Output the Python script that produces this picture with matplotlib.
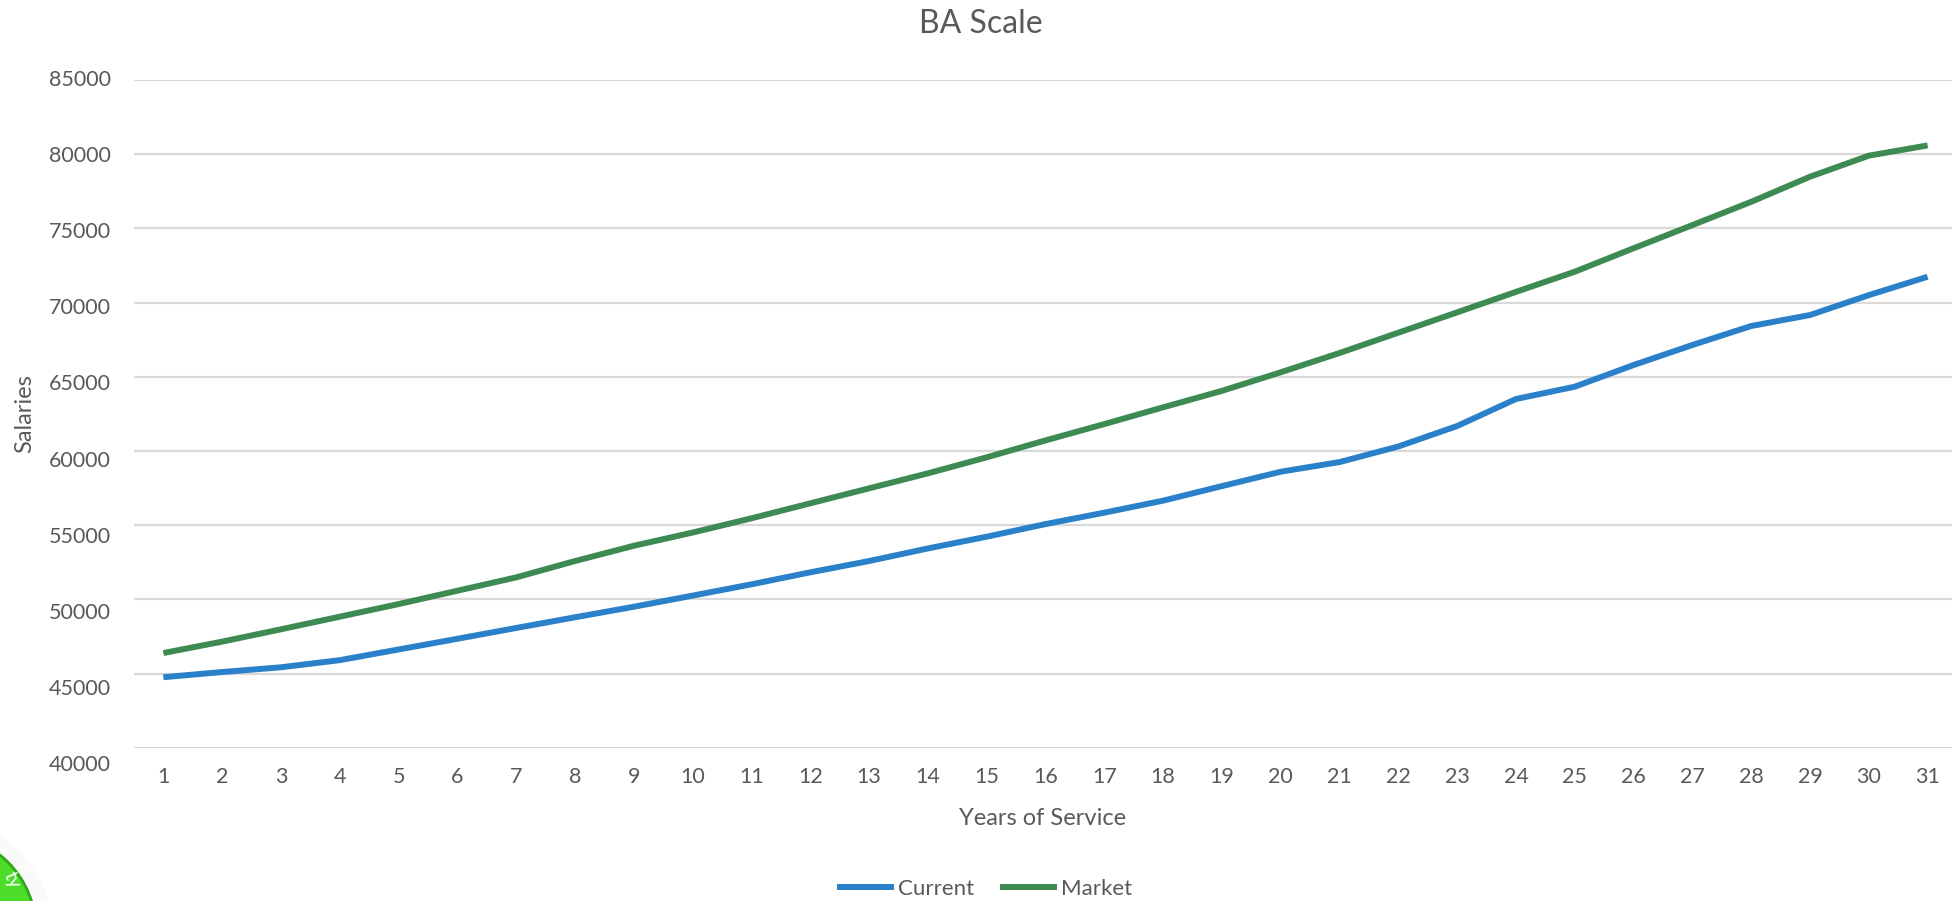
import matplotlib
matplotlib.use("Agg")
import matplotlib.pyplot as plt
from matplotlib.lines import Line2D
from matplotlib.patches import Circle

plt.rcParams['font.family'] = ['Lato', 'DejaVu Sans']

# Salary scale data
years = list(range(1, 32))
current = [44750, 45100, 45420, 45900, 46620, 47340, 48070, 48790, 49500, 50250,
           51010, 51820, 52580, 53430, 54220, 55070, 55840, 56650, 57630, 58600,
           59250, 60300, 61680, 63500, 64330, 65790, 67140, 68420, 69160, 70500,
           71740]
market = [46380, 47150, 47980, 48830, 49680, 50580, 51480, 52580, 53610, 54500,
          55460, 56470, 57480, 58490, 59570, 60710, 61810, 62940, 64050, 65300,
          66600, 67970, 69340, 70720, 72080, 73660, 75220, 76790, 78480, 79900,
          80590]
y_ticks = [40000, 45000, 50000, 55000, 60000, 65000, 70000, 75000, 80000, 85000]

TEXT = '#595959'
BLUE = '#2a81c9'
GREEN = '#3d8a52'
GRID = '#d9d9d9'

W, H = 1952, 901
fig = plt.figure(figsize=(W / 100, H / 100), dpi=100)

def fx(px):
    return px / W

def fy(py):
    return 1 - py / H

# plot area
left, right, top, bottom = 134, 1957, 80, 747.7
ax = fig.add_axes([fx(left), fy(bottom), (right - left) / W, (bottom - top) / H])
ax.plot(years, current, color=BLUE, lw=4.3, solid_capstyle='butt', solid_joinstyle='round')
ax.plot(years, market, color=GREEN, lw=4.3, solid_capstyle='butt', solid_joinstyle='round')
ax.set_xlim(0.5, 31.5)
ax.set_ylim(40000, 85000)
ax.set_yticks(y_ticks)
ax.yaxis.grid(True, color=GRID, lw=1.6)
ax.set_axisbelow(True)
ax.tick_params(axis='y', left=False, labelleft=False)
ax.set_xticks(years)
ax.set_xticklabels([str(y) for y in years])
ax.tick_params(axis='x', length=0, pad=14, labelsize=15.5, labelcolor=TEXT)
for s in ax.spines.values():
    s.set_visible(False)

# value axis labels
lab = fig.add_axes([fx(left), fy(763), 0.001, (763 - 78) / H])
lab.set_ylim(40000, 85000)
lab.set_yticks(y_ticks)
lab.set_yticklabels([str(v) for v in y_ticks])
lab.tick_params(axis='y', length=0, pad=16.5, labelsize=15.5, labelcolor=TEXT)
lab.set_xticks([])
lab.patch.set_visible(False)
for s in lab.spines.values():
    s.set_visible(False)

# titles
fig.text(fx(981), fy(33), 'BA Scale', ha='center', va='baseline', fontsize=23, color=TEXT)
fig.text(fx(1043), fy(825), 'Years of Service', ha='center', va='baseline', fontsize=17, color=TEXT)
fig.text(fx(25), fy(414), 'Salaries', ha='center', va='center', rotation=90, fontsize=17, color=TEXT)

# legend
handles = [Line2D([], [], color=BLUE, lw=4.3), Line2D([], [], color=GREEN, lw=4.3)]
fig.legend(handles, ['Current', 'Market'], loc='center', bbox_to_anchor=(fx(986), fy(889)),
           ncol=2, frameon=False, fontsize=16, labelcolor=TEXT, handlelength=2.3,
           handletextpad=0.3, columnspacing=1.3, borderpad=0)

# corner badge, mostly outside the canvas
ring = Circle((-60, H - 930), 112, transform=None, facecolor='#fafafa', edgecolor='none')
badge = Circle((-60, H - 930), 96, transform=None, facecolor='#4cdc2a', edgecolor='#2fa81a', lw=2)
fig.patches.extend([ring, badge])
fig.text(fx(12), fy(880), 'ty', color='white', fontsize=14, rotation=-65,
         ha='center', va='center')

fig.savefig('out.png', dpi=100)
